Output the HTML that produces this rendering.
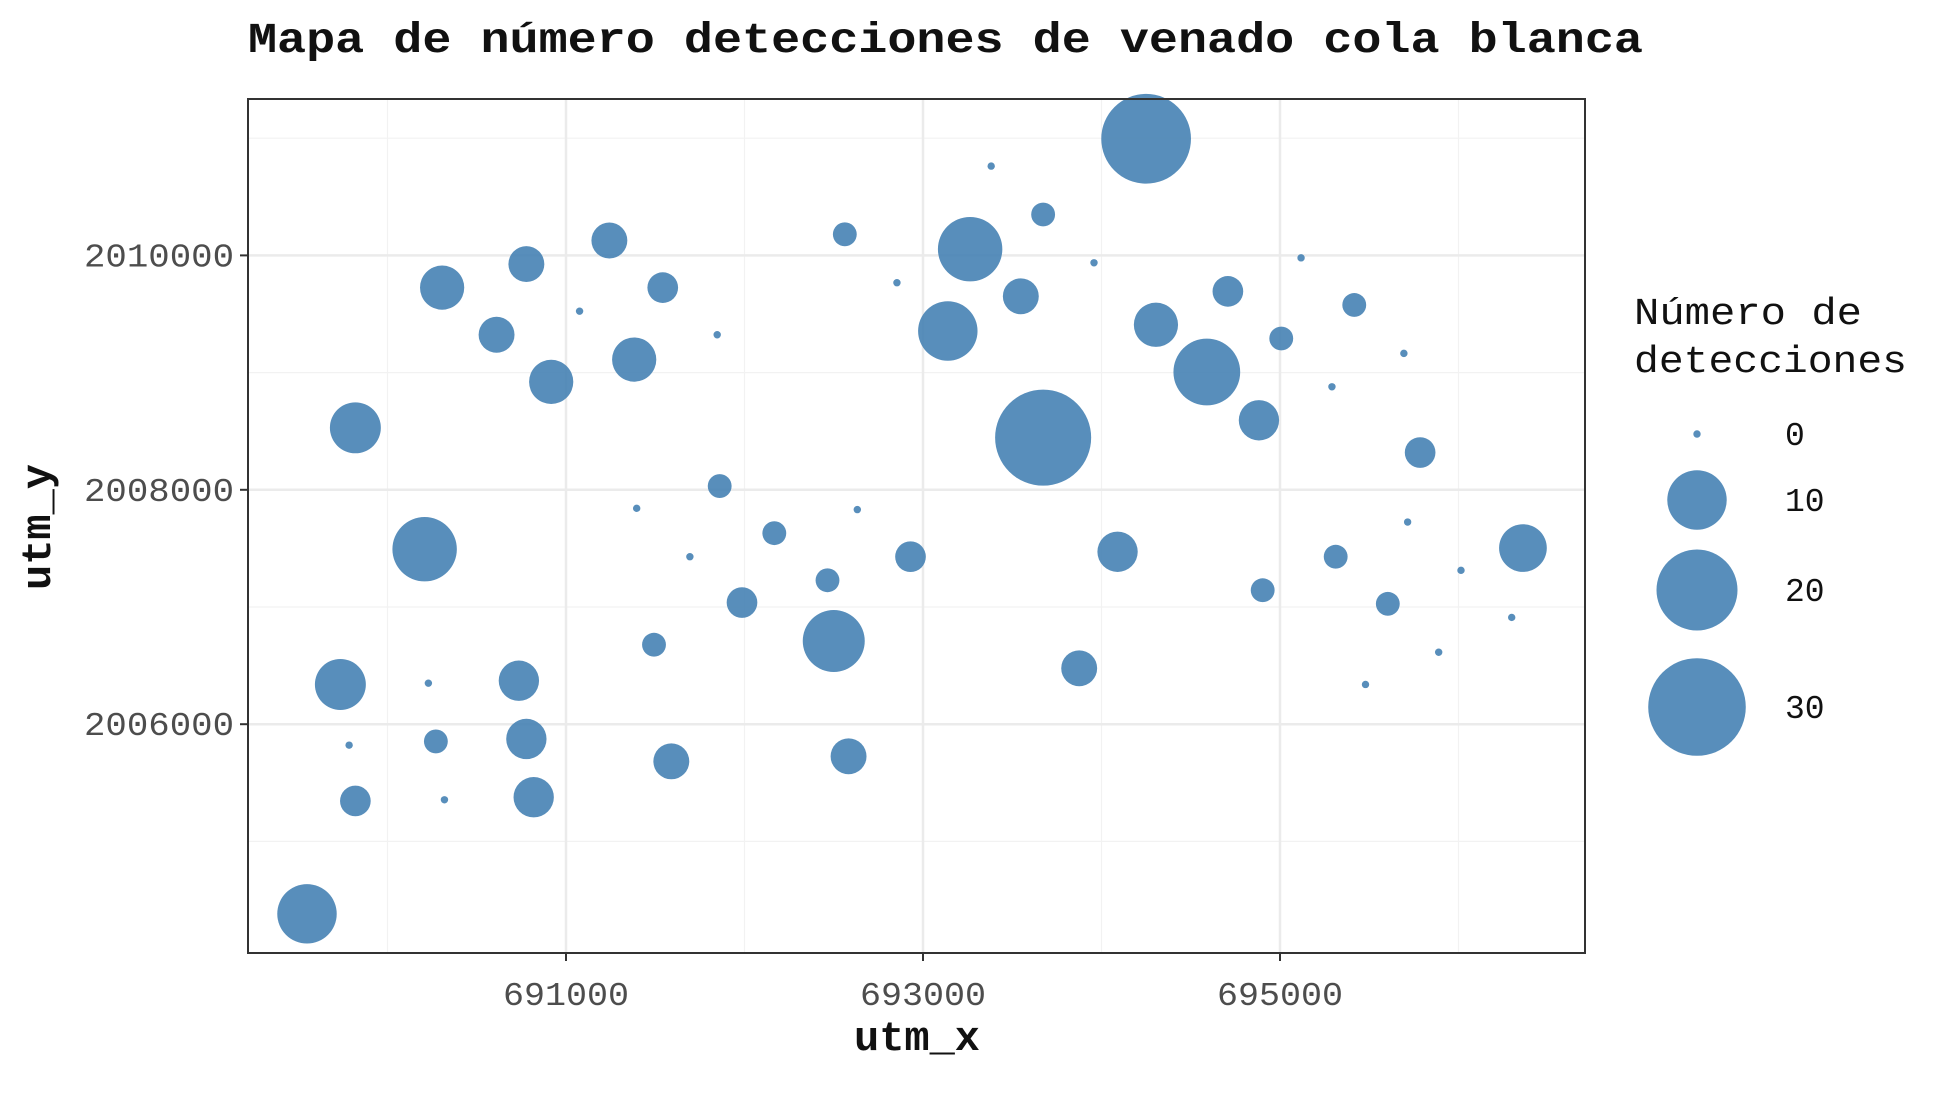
<!DOCTYPE html>
<html><head><meta charset="utf-8"><style>
html,body{margin:0;padding:0;background:#fff;}
svg{display:block;}
text{font-family:"Liberation Mono","DejaVu Sans Mono",monospace;}
</style></head><body>
<svg id="chart" width="1944" height="1093" viewBox="0 0 1944 1093" xmlns="http://www.w3.org/2000/svg">
<text x="248" y="52" font-size="43" font-weight="bold" fill="#111" textLength="1395" lengthAdjust="spacingAndGlyphs">Mapa de número detecciones de venado cola blanca</text>
<g id="grid"></g>
<g id="points"></g>
<rect x="248" y="99" width="1337" height="854" fill="none" stroke="#333" stroke-width="2"/>
<g id="axes"></g>
<text x="917" y="1050" font-size="42" font-weight="bold" text-anchor="middle" fill="#111">utm_x</text>
<text transform="translate(50,527) rotate(-90)" font-size="42" font-weight="bold" text-anchor="middle" fill="#111">utm_y</text>
<g id="legend">
<text x="1634" y="324" font-size="38" fill="#111" textLength="228" lengthAdjust="spacingAndGlyphs">Número de</text>
<text x="1634" y="372" font-size="38" fill="#111" textLength="273" lengthAdjust="spacingAndGlyphs">detecciones</text>
</g>
</svg>
<script>
const xs=[689549,689736,689820,689820,689785,690208,690229,690271,690306,690319,690611,690736,690778,690778,690819,690917,691076,691243,691382,691396,691493,691542,691590,691694,691847,691861,691986,692167,692465,692500,692562,692583,692632,692854,692930,693139,693264,693382,693548,693673,693673,693875,693958,694090,694250,694305,694590,694708,694882,694903,695007,695118,695291,695312,695416,695479,695604,695694,695715,695785,695889,696014,696298,696361];
const ys=[2004382,2006339,2008529,2005345,2005821,2007493,2006350,2005853,2009725,2005355,2009323,2006371,2009926,2005874,2005377,2008921,2009524,2010127,2009111,2007842,2006678,2009725,2005683,2007429,2009323,2008032,2007038,2007630,2007228,2006710,2010180,2005726,2007831,2009767,2007429,2009355,2010053,2010762,2009651,2010349,2008445,2006477,2009937,2007471,2010995,2009408,2009005,2009693,2008593,2007143,2009291,2009979,2008879,2007429,2009577,2006339,2007027,2009164,2007725,2008318,2006614,2007313,2006911,2007503];
const counts=[10,7,7,2,0,12,0,1,5,0,3,4,3,4,4,5,0,3,5,0,1,2,3,0,0,1,2,1,1,11,1,3,0,0,2,10,12,0,3,1,29,3,0,4,25,5,13,2,4,1,1,0,0,1,1,0,1,0,0,2,0,0,0,6];
const xTicks=[691000,693000,695000];
const xMinor=[690000,692000,694000,696000];
const yTicks=[2006000,2008000,2010000];
const yMinor=[2005000,2007000,2009000,2011000];
const legendVals=[0,10,20,30];

const NS="http://www.w3.org/2000/svg";
const L=248,R=1585,T=99,B=953;
function sx(x){return 566+(x-691000)*0.1785;}
function sy(y){return 255.4+(2010000-y)*0.1172;}
function sr(v){return 3.7+8.23*Math.sqrt(v);}
function mk(tag,attrs,parent){const e=document.createElementNS(NS,tag);for(const k in attrs)e.setAttribute(k,attrs[k]);parent.appendChild(e);return e;}
const grid=document.getElementById('grid'),axes=document.getElementById('axes'),pts=document.getElementById('points'),leg=document.getElementById('legend');
mk('rect',{x:L,y:T,width:R-L,height:B-T,fill:'#fff'},grid);
xMinor.forEach(v=>{const e=mk('line',{x1:sx(v),x2:sx(v),y1:T,y2:B,stroke:'#f2f2f2','stroke-width':1.2},grid);

});
yMinor.forEach(v=>{const e=mk('line',{x1:L,x2:R,y1:sy(v),y2:sy(v),stroke:'#f2f2f2','stroke-width':1.2},grid);

});
xTicks.forEach(v=>{const e=mk('line',{x1:sx(v),x2:sx(v),y1:T,y2:B,stroke:'#ebebeb','stroke-width':2.5},grid);


const t=mk('line',{x1:sx(v),x2:sx(v),y1:B,y2:B+8,stroke:'#333','stroke-width':2},axes);


const lb=mk('text',{x:sx(v),y:B+52,'font-size':33,'text-anchor':'middle',fill:'#4d4d4d',textLength:126,lengthAdjust:'spacingAndGlyphs'},axes);
lb.textContent=v;

});
yTicks.forEach(v=>{const e=mk('line',{x1:L,x2:R,y1:sy(v),y2:sy(v),stroke:'#ebebeb','stroke-width':2.5},grid);


const t=mk('line',{x1:L-8,x2:L,y1:sy(v),y2:sy(v),stroke:'#333','stroke-width':2},axes);


const lb=mk('text',{x:L-14,y:sy(v)+11,'font-size':33,'text-anchor':'end',fill:'#4d4d4d',textLength:150,lengthAdjust:'spacingAndGlyphs'},axes);
lb.textContent=v;

});
xs.forEach((x,i)=>{const c=mk('circle',{cx:sx(x),cy:sy(ys[i]),r:sr(counts[i]),fill:'#4682b4','fill-opacity':0.9},pts);

});
const legY=[434,500,590,707];
legendVals.forEach((v,i)=>{const c=mk('circle',{cx:1697,cy:legY[i],r:sr(v),fill:'#4682b4','fill-opacity':0.9},leg);


const t=mk('text',{x:1785,y:legY[i]+11,'font-size':33,fill:'#111'},leg);
t.textContent=v;

});
</script>
</body></html>
